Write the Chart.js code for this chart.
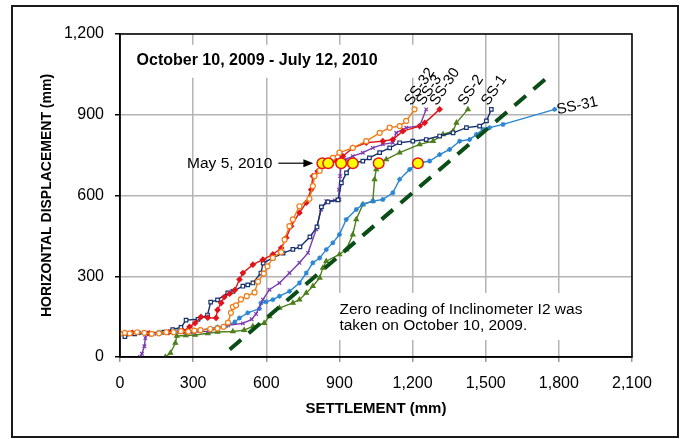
<!DOCTYPE html>
<html>
<head>
<meta charset="utf-8">
<script src="https://cdn.jsdelivr.net/npm/chart.js@4.4.0/dist/chart.umd.min.js"></script>
<style>
    body { margin: 0; background: #fff; }
    canvas { display: block; }
</style>
</head>
<body>
<canvas id="chart_settlement" width="685" height="439"></canvas>
<script>
// settlement (mm) vs horizontal displacement (mm)
var data_ss32 = [
    [0, 86], [20, 90], [40, 88], [70, 92], [100, 90], [130, 86], [160, 88], [190, 92], [220, 92],
    [250, 96], [280, 94], [305, 98], [330, 100], [370, 104], [400, 106], [425, 112],
    [443, 128], [455, 164], [463, 186], [476, 192], [496, 214], [520, 226], [552, 240],
    [566, 280], [590, 310], [605, 337], [627, 368], [661, 390], [675, 436], [695, 486],
    [709, 511], [736, 560], [777, 588], [791, 635], [798, 672], [819, 692], [830, 720],
    [873, 740], [900, 759], [955, 777], [1010, 802], [1065, 833], [1106, 852], [1147, 858],
    [1174, 877], [1208, 920]
];
var data_ss3 = [
    [82, 0], [90, 12], [100, 40], [104, 70], [107, 88], [150, 86], [220, 90], [300, 92],
    [367, 96], [443, 118], [504, 125], [540, 140], [558, 160], [586, 213], [613, 250],
    [654, 275], [695, 312], [736, 350], [771, 387], [805, 474], [825, 548], [846, 579],
    [880, 582], [900, 585], [898, 622], [903, 672], [907, 720], [928, 734], [955, 746],
    [996, 759], [1037, 777], [1078, 790], [1119, 796], [1133, 833], [1174, 852],
    [1229, 858], [1256, 920]
];
var data_ss30 = [
    [0, 86], [50, 90], [120, 88], [200, 92], [260, 96], [285, 112], [308, 126], [332, 149],
    [360, 146], [394, 145], [400, 175], [415, 201], [428, 223], [450, 235], [471, 249],
    [490, 288], [504, 312], [545, 343], [586, 362], [627, 381], [661, 405], [682, 443],
    [702, 486], [736, 536], [764, 573], [784, 622], [791, 672], [811, 690], [854, 720],
    [887, 728], [914, 746], [955, 777], [1010, 796], [1078, 802], [1119, 808], [1160, 839],
    [1229, 858], [1250, 870], [1311, 920]
];
var data_ss2 = [
    [186, 0], [207, 15], [227, 52], [233, 78], [270, 80], [308, 82], [360, 88], [400, 93],
    [463, 95], [509, 100], [545, 114], [591, 126], [613, 151], [654, 182], [709, 201],
    [736, 213], [764, 238], [791, 263], [819, 294], [832, 331], [846, 356], [900, 381],
    [928, 399], [955, 455], [969, 511], [996, 567], [1037, 579], [1044, 660], [1051, 697],
    [1061, 720], [1092, 734], [1147, 759], [1229, 790], [1284, 802], [1325, 827],
    [1366, 839], [1380, 870], [1427, 920]
];
var data_ss1 = [
    [20, 76], [60, 86], [120, 88], [180, 92], [216, 102], [250, 110], [271, 137], [320, 140],
    [359, 156], [372, 204], [400, 212], [442, 238], [463, 244], [504, 263], [524, 268],
    [545, 275], [578, 312], [587, 349], [627, 368], [669, 386], [709, 400], [738, 409],
    [779, 446], [808, 483], [826, 558], [853, 576], [894, 584], [908, 647], [929, 684],
    [955, 720], [996, 728], [1023, 740], [1065, 759], [1106, 777], [1147, 796], [1201, 802],
    [1256, 808], [1311, 821], [1366, 833], [1421, 852], [1475, 858], [1503, 877], [1523, 920]
];
var data_ss31 = [
    [0, 86], [80, 90], [160, 92], [240, 96], [326, 100], [400, 111], [435, 116], [471, 130],
    [490, 145], [524, 164], [572, 180], [578, 200], [599, 205], [627, 213], [654, 226],
    [695, 244], [736, 275], [764, 312], [791, 350], [819, 368], [846, 399], [873, 424],
    [900, 455], [928, 511], [969, 548], [996, 567], [1037, 579], [1078, 585], [1119, 610],
    [1147, 660], [1188, 697], [1222, 720], [1270, 728], [1311, 752], [1352, 771],
    [1393, 802], [1434, 808], [1462, 827], [1489, 846], [1516, 852], [1571, 864], [1783, 920]
];
var data_trend = [[450, 28], [1770, 1052]];
var data_may_5 = [[830, 720], [854, 720], [907, 720], [955, 720], [1061, 720], [1222, 720]];

var series_names = ['SS-32', 'SS-3', 'SS-30', 'SS-2', 'SS-1', 'SS-31'];
var series_colors = ['#f07b14', '#7a3cae', '#e0141c', '#4e7f1c', '#17336e', '#2a86d2'];
var x_tick_values = [0, 300, 600, 900, 1200, 1500, 1800, 2100];
var y_tick_values = [0, 300, 600, 900, 1200];

function to_points(arr) {
    return arr.map(function (p) { return {x: p[0], y: p[1]}; });
}

function fmt_num(v) {
    return Number(v).toLocaleString('en-US');
}

var font_family = "Arial, 'Liberation Sans', sans-serif";

var plugin_decor = {
    id: 'decor',
    beforeDraw: function (chart) {
        var ctx = chart.ctx;
        ctx.save();
        ctx.fillStyle = '#fff';
        ctx.fillRect(0, 0, chart.width, chart.height);
        ctx.restore();
    },
    beforeDatasetsDraw: function (chart) {
        var ctx = chart.ctx, xs = chart.scales.x, ys = chart.scales.y;
        ctx.save();
        ctx.fillStyle = '#fff';
        // boxes behind the text cover the grid
        ctx.fillRect(xs.getPixelForValue(35), ys.getPixelForValue(1160), 300, 33);
        ctx.fillRect(xs.getPixelForValue(872), ys.getPixelForValue(238), 245, 47);
        ctx.restore();
    },
    afterDatasetsDraw: function (chart) {
        var ctx = chart.ctx, a = chart.chartArea, xs = chart.scales.x, ys = chart.scales.y;
        ctx.save();

        ctx.strokeStyle = '#000';
        ctx.lineWidth = 1.5;
        ctx.strokeRect(a.left, a.top, a.right - a.left, a.bottom - a.top);

        ctx.fillStyle = '#000';
        ctx.textBaseline = 'middle';
        ctx.textAlign = 'left';
        ctx.font = "bold 16px " + font_family;
        ctx.fillText('October 10, 2009 - July 12, 2010', xs.getPixelForValue(68), ys.getPixelForValue(1100));

        ctx.font = "15.5px " + font_family;
        ctx.fillText('Zero reading of Inclinometer I2 was', xs.getPixelForValue(900), ys.getPixelForValue(175));
        ctx.fillText('taken on October 10, 2009.', xs.getPixelForValue(900), ys.getPixelForValue(115));

        // May 5 arrow
        var ay = ys.getPixelForValue(data_may_5[0][1]);
        var ax = xs.getPixelForValue(data_may_5[0][0]) - 9;
        ctx.textAlign = 'right';
        ctx.font = "15.5px " + font_family;
        ctx.fillText('May 5, 2010', ax - 41, ay + 1);
        ctx.strokeStyle = '#000';
        ctx.lineWidth = 1.2;
        ctx.beginPath();
        ctx.moveTo(ax - 35, ay);
        ctx.lineTo(ax - 8, ay);
        ctx.stroke();
        ctx.beginPath();
        ctx.moveTo(ax, ay);
        ctx.lineTo(ax - 10, ay - 4);
        ctx.lineTo(ax - 10, ay + 4);
        ctx.closePath();
        ctx.fill();

        // series labels at the last reading
        ctx.font = "15px " + font_family;
        ctx.textAlign = 'left';
        ctx.textBaseline = 'alphabetic';
        for (var i = 0; i < series_names.length; i++) {
            var meta = chart.getDatasetMeta(i + 2);
            var last = meta.data[meta.data.length - 1];
            ctx.save();
            if (series_names[i] === 'SS-31') {
                ctx.translate(last.x + 3, last.y + 5);
                ctx.rotate(-12 * Math.PI / 180);
            } else {
                ctx.translate(last.x - 3, last.y - 3);
                ctx.rotate(-56 * Math.PI / 180);
            }
            ctx.fillText(series_names[i], 0, 0);
            ctx.restore();
        }

        // outer frame
        ctx.strokeStyle = '#1a1a1a';
        ctx.lineWidth = 2;
        ctx.strokeRect(12, 6, 666, 431);
        ctx.restore();
    }
};

var series_styles = [
    {style: 'circle', fill: '#fff', radius: 2.5},
    {style: 'crossRot', fill: series_colors[1], radius: 2.5},
    {style: 'rectRot', fill: series_colors[2], radius: 2.5},
    {style: 'triangle', fill: series_colors[3], radius: 2.5},
    {style: 'rect', fill: '#fff', radius: 2.5},
    {style: 'star', fill: series_colors[5], radius: 2.5}
];
var series_data = [data_ss32, data_ss3, data_ss30, data_ss2, data_ss1, data_ss31];
var series_order = [2, 5, 3, 7, 4, 6];

var datasets = [
    {
        label: 'May 5, 2010',
        data: to_points(data_may_5),
        showLine: false,
        pointRadius: 5.3,
        pointBackgroundColor: '#ffff00',
        pointBorderColor: '#e8141c',
        pointBorderWidth: 1.5,
        order: 0
    },
    {
        label: 'trend',
        data: to_points(data_trend),
        showLine: true,
        borderColor: '#0b4d16',
        borderWidth: 4,
        borderDash: [15, 10],
        pointRadius: 0,
        order: 1
    }
];

for (var i = 0; i < series_names.length; i++) {
    datasets.push({
        label: series_names[i],
        data: to_points(series_data[i]),
        showLine: true,
        borderColor: series_colors[i],
        borderWidth: 1.4,
        pointStyle: series_styles[i].style,
        pointRadius: series_styles[i].radius,
        pointBackgroundColor: series_styles[i].fill,
        pointBorderColor: series_colors[i],
        pointBorderWidth: 1.2,
        order: series_order[i]
    });
}

var chart_settlement = new Chart(document.getElementById('chart_settlement'), {
    type: 'scatter',
    data: {datasets: datasets},
    options: {
        responsive: false,
        animation: false,
        layout: {
            padding: {left: 0, top: 34, right: 53, bottom: 0}
        },
        plugins: {
            legend: {display: false},
            tooltip: {enabled: false}
        },
        scales: {
            x: {
                type: 'linear',
                min: 0,
                max: 2100,
                afterBuildTicks: function (axis) {
                    axis.ticks = x_tick_values.map(function (v) { return {value: v}; });
                },
                afterFit: function (axis) { axis.height = 82; },
                grid: {color: '#b4b4b4', lineWidth: 1.5, tickLength: 5, tickColor: '#9a9a9a'},
                border: {color: '#000', width: 1.5},
                ticks: {
                    color: '#000',
                    padding: 12,
                    maxRotation: 0,
                    font: {size: 16, family: font_family},
                    callback: function (v) { return fmt_num(v); }
                },
                title: {
                    display: true,
                    text: 'SETTLEMENT (mm)',
                    color: '#000',
                    font: {size: 15, weight: 'bold', family: font_family},
                    padding: {top: 0, bottom: 21}
                }
            },
            y: {
                type: 'linear',
                min: 0,
                max: 1200,
                afterBuildTicks: function (axis) {
                    axis.ticks = y_tick_values.map(function (v) { return {value: v}; });
                },
                afterFit: function (axis) { axis.width = 120; },
                grid: {color: '#b4b4b4', lineWidth: 1.5, tickLength: 5, tickColor: '#000'},
                border: {color: '#000', width: 1.5},
                ticks: {
                    color: '#000',
                    padding: 11,
                    font: {size: 16, family: font_family},
                    callback: function (v) { return fmt_num(v); }
                },
                title: {
                    display: true,
                    text: 'HORIZONTAL DISPLACEMENT (mm)',
                    color: '#000',
                    font: {size: 14, weight: 'bold', family: font_family},
                    padding: {top: 39, bottom: 0}
                }
            }
        }
    },
    plugins: [plugin_decor]
});
</script>
</body>
</html>
